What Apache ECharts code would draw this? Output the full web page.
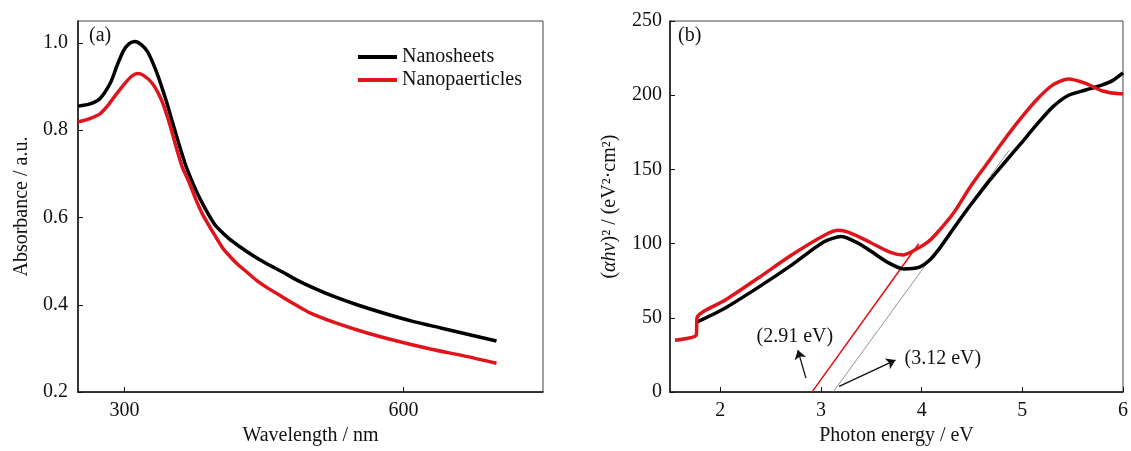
<!DOCTYPE html>
<html>
<head>
<meta charset="utf-8">
<script src="https://cdn.jsdelivr.net/npm/echarts@6/dist/echarts.min.js"></script>
<style>html,body{margin:0;padding:0;background:#fff;}#c{width:1131px;height:451px;}</style>
</head>
<body>
<div id="c"></div>
<script>
// Panel (a): absorbance spectra [wavelength nm, absorbance]
const nanosheetsAbs = [[250,0.855],[263,0.860],[274,0.873],[285,0.909],[292,0.948],[299,0.982],[305,0.998],[311,1.003],[318,0.996],[325,0.979],[335,0.930],[345,0.866],[352,0.815],[360,0.758],[366,0.718],[372,0.686],[380,0.648],[390,0.608],[397,0.584],[403,0.570],[412,0.552],[424,0.533],[438,0.513],[453,0.494],[470,0.475],[486,0.456],[505,0.437],[525,0.419],[550,0.400],[580,0.380],[610,0.362],[640,0.347],[670,0.332],[700,0.317]];
const nanoparticlesAbs = [[250,0.819],[262,0.826],[274,0.838],[282,0.856],[290,0.879],[300,0.906],[308,0.924],[314,0.930],[320,0.926],[330,0.907],[340,0.868],[348,0.818],[356,0.758],[362,0.716],[369,0.683],[376,0.645],[384,0.607],[394,0.570],[405,0.532],[412,0.514],[421,0.494],[432,0.474],[442,0.456],[455,0.437],[469,0.419],[484,0.400],[500,0.381],[528,0.358],[560,0.336],[593,0.317],[630,0.298],[665,0.283],[700,0.266]];
// Panel (b): Tauc plot [photon energy eV, (ahv)^2]
const nanosheetsTauc = [[1.77,47.3],[2.05,56.7],[2.38,70.7],[2.70,85.2],[3.03,101.3],[3.20,104.8],[3.35,101],[3.49,95.2],[3.66,87.5],[3.82,83.0],[3.97,84.0],[4.08,89],[4.18,97],[4.32,110.5],[4.48,125.5],[4.65,140.5],[4.81,153.5],[4.98,167],[5.14,180],[5.30,192],[5.46,200],[5.63,203.5],[5.79,206.8],[5.90,210],[6.0,215]];
const nanoparticlesTauc = [[1.55,35],[1.76,38.4],[1.77,50.5],[2.05,62],[2.38,77],[2.70,92],[3.03,105.5],[3.17,109],[3.30,107],[3.49,100.8],[3.69,94.2],[3.82,92.4],[3.95,96.4],[4.06,101],[4.15,107],[4.32,121],[4.48,138],[4.65,154],[4.81,169],[4.98,184],[5.14,196.8],[5.30,206.8],[5.46,211],[5.63,208],[5.79,203],[5.97,201],[6.0,201]];
const tangentParticles = [[2.91,0],[3.97,100]];
const tangentSheets = [[3.12,0],[4.87,163]];
const arrow291 = [[2.85,9.4],[2.77,28.3]];
const arrow312 = [[3.18,3.8],[3.74,21.6]];
const label291 = [2.74,37];
const label312 = [3.83,22.5];
// Tick labels
const xTicksA = [300,600];
const yTicksA = [0.2,0.4,0.6,0.8,1.0];
const xTicksB = [2,3,4,5,6];

const FONT = 'Liberation Serif';
const RED = '#e0141b';
const INK = '#111';
const txt = {fontFamily: FONT, fontSize: 20, color: INK};

const chart = echarts.init(document.getElementById('c'), null, {renderer: 'canvas'});

const axisCommon = {
  axisLine: {show: true, onZero: false, lineStyle: {color: INK, width: 1.5}},
  axisTick: {show: true, inside: true, length: 5, lineStyle: {color: INK, width: 1}},
  splitLine: {show: false},
  nameLocation: 'middle',
  nameTextStyle: txt
};

chart.setOption({
  animation: false,
  backgroundColor: '#fff',
  textStyle: {fontFamily: FONT},
  title: [
    {text: '(a)', left: 84, top: 21, textStyle: {fontFamily: FONT, fontSize: 20, fontWeight: 'normal', color: INK}},
    {text: '(b)', left: 673, top: 21, textStyle: {fontFamily: FONT, fontSize: 20, fontWeight: 'normal', color: INK}}
  ],
  legend: {
    data: ['Nanosheets', 'Nanopaerticles'],
    orient: 'vertical',
    left: 353, top: 42,
    itemWidth: 39, itemHeight: 4, itemGap: 3, itemTextGap: 6,
    icon: 'rect',
    textStyle: {fontFamily: FONT, fontSize: 20, color: INK}
  },
  grid: [
    {left: 78, top: 21, width: 465, height: 375, show: true, borderColor: '#444', borderWidth: 1, backgroundColor: 'transparent'},
    {left: 670, top: 21, width: 456, height: 373, show: true, borderColor: '#444', borderWidth: 1, backgroundColor: 'transparent'}
  ],
  xAxis: [
    Object.assign({}, axisCommon, {
      gridIndex: 0, type: 'value', min: 250, max: 750,
      name: 'Wavelength / nm', nameGap: 31,
      axisTick: Object.assign({}, axisCommon.axisTick, {customValues: xTicksA}),
      axisLabel: Object.assign({}, txt, {customValues: xTicksA, margin: 9})
    }),
    Object.assign({}, axisCommon, {
      gridIndex: 1, type: 'value', min: 1.5, max: 6,
      name: 'Photon energy / eV', nameGap: 33,
      axisTick: Object.assign({}, axisCommon.axisTick, {customValues: xTicksB}),
      axisLabel: Object.assign({}, txt, {customValues: xTicksB, margin: 9})
    })
  ],
  yAxis: [
    Object.assign({}, axisCommon, {
      gridIndex: 0, type: 'value', min: 0.2, max: 1.05,
      name: 'Absorbance / a.u.', nameGap: 46,
      axisTick: Object.assign({}, axisCommon.axisTick, {customValues: yTicksA}),
      axisLabel: Object.assign({}, txt, {customValues: yTicksA, margin: 10, formatter: v => v.toFixed(1)})
    }),
    Object.assign({}, axisCommon, {
      gridIndex: 1, type: 'value', min: 0, max: 250, interval: 50,
      name: '({i|αhν})² / (eV²·cm²)', nameGap: 50,
      nameTextStyle: Object.assign({}, txt, {rich: {i: {fontFamily: FONT, fontSize: 20, fontStyle: 'italic', color: INK}}}),
      axisLabel: Object.assign({}, txt, {margin: 8})
    })
  ],
  series: [
    {name: 'Nanosheets', type: 'line', xAxisIndex: 0, yAxisIndex: 0, data: nanosheetsAbs, smooth: 0.25, showSymbol: false, lineStyle: {color: '#000', width: 3.5}, itemStyle: {color: '#000'}, z: 3},
    {name: 'Nanopaerticles', type: 'line', xAxisIndex: 0, yAxisIndex: 0, data: nanoparticlesAbs, smooth: 0.25, showSymbol: false, lineStyle: {color: RED, width: 3.5}, itemStyle: {color: RED}, z: 4},
    {name: 'tangent-grey', type: 'line', xAxisIndex: 1, yAxisIndex: 1, data: tangentSheets, showSymbol: false, lineStyle: {color: '#777', width: 0.8}, z: 1},
    {name: 'tangent-red', type: 'line', xAxisIndex: 1, yAxisIndex: 1, data: tangentParticles, showSymbol: false, lineStyle: {color: RED, width: 1.6}, z: 1},
    {name: 'Sheets (b)', type: 'line', xAxisIndex: 1, yAxisIndex: 1, data: nanosheetsTauc, smooth: 0.25, showSymbol: false, lineStyle: {color: '#000', width: 3.5}, z: 3},
    {name: 'Particles (b)', type: 'line', xAxisIndex: 1, yAxisIndex: 1, data: nanoparticlesTauc, smooth: 0.25, showSymbol: false, lineStyle: {color: RED, width: 3.5}, z: 4},
    {name: 'arrows', type: 'lines', coordinateSystem: 'cartesian2d', xAxisIndex: 1, yAxisIndex: 1,
      data: [{coords: arrow291}, {coords: arrow312}],
      symbol: ['none', 'arrow'], symbolSize: 9,
      lineStyle: {color: INK, width: 1.3, opacity: 1}, z: 5},
    {name: 'labels', type: 'scatter', xAxisIndex: 1, yAxisIndex: 1, symbolSize: 0, itemStyle: {opacity: 1},
      data: [
        {value: label291, label: {show: true, formatter: '(2.91 eV)', position: 'inside', fontFamily: FONT, fontSize: 20, color: INK, opacity: 1}},
        {value: label312, label: {show: true, formatter: '(3.12 eV)', position: 'right', distance: 0, fontFamily: FONT, fontSize: 20, color: INK, opacity: 1}}
      ], z: 6}
  ]
});
</script>
</body>
</html>
